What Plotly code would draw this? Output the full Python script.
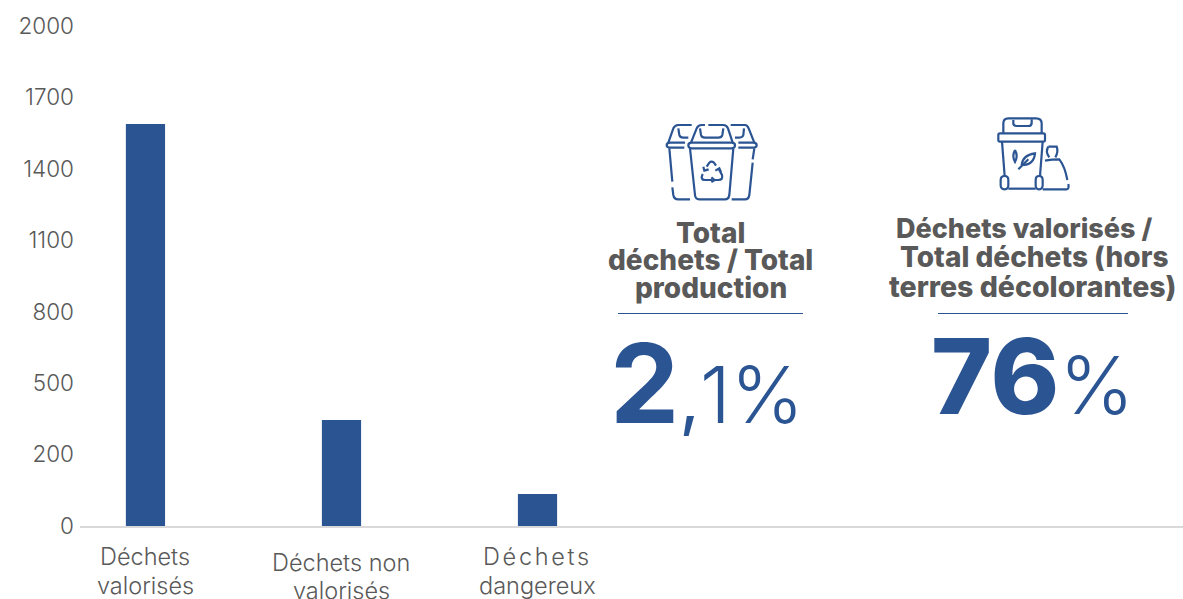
import plotly.graph_objects as go

W, H = 1183, 599
categories = ["Déchets valorisés", "Déchets non valorisés", "Déchets dangereux"]
values = [1608, 424, 128]
tick_labels = ["0", "200", "500", "800", "1100", "1400", "1700", "2000"]
tick_steps = [0, 1, 2, 3, 4, 5, 6, 7]
y_max = 2000
BLUE = "#2b5493"
GREY = "#595959"
FONT = "Inter, 'Open Sans', sans-serif"

def px(x): return x / W
def py(y): return 1 - y / H

def path(cmds, ox, oy, k=1/3):
    """cmds: list of ('M'|'L'|'Q', coords...) in zoomed icon units."""
    out = []
    for c in cmds:
        parts = [c[0]]
        vals = c[1:]
        for i in range(0, len(vals), 2):
            parts.append(f"{px(ox + vals[i]*k):.5f},{py(oy + vals[i+1]*k):.5f}")
        out.append(" ".join(parts))
    return " ".join(out)

def icon(strokes, ox, oy):
    return [dict(type="path", xref="paper", yref="paper",
                 path=path(s, ox, oy),
                 line=dict(color=BLUE, width=2.2), fillcolor="rgba(0,0,0,0)")
            for s in strokes]

recycle_bins = [
    [("M",150,145),("L",165,285),("Q",166,298,178,298),("L",255,298),("Q",266,298,268,285),("L",280,145)],
    [("M",155,128),("L",275,128),("Q",285,128,285,136),("Q",285,145,275,145),("L",155,145),("Q",145,145,145,136),("Q",145,128,155,128)],
    [("M",153,128),("L",170,85),("Q",174,75,185,75),("L",195,75)],
    [("M",205,75),("L",250,75),("Q",260,75,264,85),("L",278,128)],
    [("M",180,85),("L",183,105),("Q",185,113,195,113),("L",235,113),("Q",245,113,247,105),("L",250,85)],
    [("M",135,128),("L",90,128),("Q",80,128,80,136),("Q",80,143,90,143),("L",133,143)],
    [("M",85,128),("L",100,85),("Q",105,75,115,75),("L",155,75)],
    [("M",115,85),("L",118,105),("Q",120,113,130,113),("L",145,113)],
    [("M",88,145),("L",97,245)],
    [("M",97,262),("L",100,285),("Q",102,298,115,298),("L",150,298)],
    [("M",272,75),("L",315,75),("Q",322,75,326,85),("L",343,128)],
    [("M",295,128),("L",340,128),("Q",350,128,350,136),("Q",350,143,340,143),("L",295,143)],
    [("M",312,85),("L",310,105),("Q",308,113,295,113),("L",285,113)],
    [("M",343,145),("L",338,178)],
    [("M",338,188),("L",328,285),("Q",326,298,315,298),("L",275,298)],
    [("M",200,200),("L",208,188),("Q",214,182,222,188),("L",228,197)],
    [("M",190,200),("L",193,212),("L",206,208)],
    [("M",235,205),("L",246,225),("Q",250,240,235,240),("L",224,240)],
    [("M",226,212),("L",238,205),("L",243,216)],
    [("M",188,222),("Q",180,240,195,240),("L",218,240)],
    [("M",214,232),("L",224,240),("L",214,246)],
]
leaf_bin = [
    [("M",70,100),("L",70,70),("Q",70,55,85,55),("L",168,55),("Q",185,55,185,70),("L",185,100)],
    [("M",100,60),("L",100,70),("Q",100,78,110,78),("L",145,78),("Q",155,78,155,68),("L",155,58)],
    [("M",60,100),("L",190,100),("Q",195,100,195,105),("L",195,120),("Q",195,125,190,125),("L",60,125),("Q",55,125,55,120),("L",55,105),("Q",55,100,60,100)],
    [("M",66,125),("L",74,228)],
    [("M",188,125),("L",180,228)],
    [("M",74,228),("Q",85,228,85,240),("L",85,256),("Q",85,268,74,268),("Q",62,268,62,256),("L",62,240),("Q",62,228,74,228)],
    [("M",177,228),("Q",188,228,188,240),("L",188,256),("Q",188,268,177,268),("Q",167,268,167,256),("L",167,240),("Q",167,228,177,228)],
    [("M",85,266),("L",167,266)],
    [("M",105,150),("Q",115,168,105,186),("Q",95,168,105,150)],
    [("M",125,195),("Q",128,165,165,160),("Q",162,195,125,195)],
    [("M",115,208),("L",145,178)],
    [("M",205,140),("L",230,140),("Q",236,155,226,172)],
    [("M",205,140),("Q",195,155,208,172)],
    [("M",195,182),("Q",215,178,238,178),("Q",255,200,262,240)],
    [("M",188,268),("L",260,268),("Q",268,268,265,252)],
]

shapes = icon(recycle_bins, 640, 100) + icon(leaf_bin, 980, 100)
for x0, x1 in ((618, 803), (938, 1128)):
    shapes.append(dict(type="line", xref="paper", yref="paper", x0=px(x0), x1=px(x1),
                       y0=py(313.5), y1=py(313.5), line=dict(color=BLUE, width=1)))

def note(text, x, y, size, color=GREY, weight=400):
    return dict(text=text, xref="paper", yref="paper", x=px(x), y=py(y), showarrow=False,
                xanchor="center", yanchor="middle", align="center",
                font=dict(family=FONT, size=size, color=color, weight=weight))

def cat_note(text, i, y):
    return dict(text=text, xref="x", yref="paper", x=categories[i], y=py(y), showarrow=False,
                xanchor="center", yanchor="middle", align="center",
                font=dict(family=FONT, size=23.5, color=GREY, weight=300))

annotations = [
    cat_note("Déchets", 0, 556), cat_note("valorisés", 0, 585),
    cat_note("Déchets non", 1, 562), cat_note("valorisés", 1, 590),
    cat_note('<span style="letter-spacing:2.7px">Déchets</span>', 2, 556), cat_note("dangereux", 2, 585),
    note("Total", 710, 233, 28, weight=800),
    note("déchets / Total", 710.5, 260, 28, weight=800),
    note("production", 711, 288, 28, weight=800),
    note("Déchets valorisés /", 1023.5, 228, 27, weight=800),
    note("Total déchets (hors", 1033.5, 257, 28, weight=800),
    note("terres décolorantes)", 1033, 286, 28.5, weight=800),
    note('<span style="font-weight:700;font-size:110px">2</span>'
         '<span style="font-weight:400;font-size:72px">,</span>'
         '<span style="font-weight:300;font-size:78px">1%</span>', 707, 383, 72, BLUE),
    note('<span style="font-weight:800;font-size:104px">76</span>'
         '<span style="font-weight:300;font-size:80px">%</span>', 1032.5, 376, 72, BLUE),
]

fig = go.Figure(go.Bar(x=categories, y=values, width=0.2, marker=dict(color=BLUE, line_width=0)))
fig.update_layout(
    width=W, height=H, margin=dict(l=0, r=0, t=0, b=0), autosize=False,
    paper_bgcolor="white", plot_bgcolor="white", showlegend=False,
    shapes=shapes, annotations=annotations,
    font=dict(family=FONT, color=GREY),
    xaxis=dict(domain=[px(80), 1], type="category", range=[-0.334, 5.293], showticklabels=False, automargin=False,
               ticks="", showline=True, linecolor="#d9d9d9", linewidth=1.5, showgrid=False, zeroline=False),
    yaxis=dict(domain=[py(526), py(26)], range=[0, y_max], showgrid=False, zeroline=False, showline=False, automargin=False,
               tickmode="array", tickvals=[s * y_max / 7 for s in tick_steps], ticktext=tick_labels,
               ticks="", ticklabelstandoff=5, tickfont=dict(family=FONT, size=22.5, color=GREY, weight=300)),
)
fig.write_html("out.html", config={"displayModeBar": False},
               post_script="document.body.style.margin='0';document.body.style.overflow='hidden';")
